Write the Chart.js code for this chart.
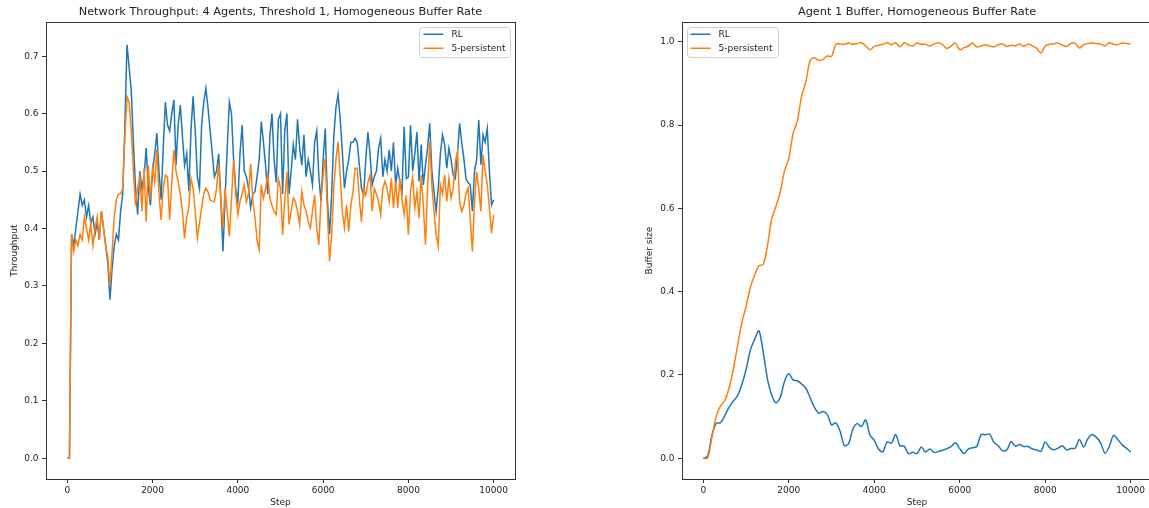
<!DOCTYPE html>
<html>
<head>
<meta charset="utf-8">
<script src="https://cdn.jsdelivr.net/npm/chart.js@4.4.1/dist/chart.umd.min.js"></script>
<style>
  html, body { margin: 0; padding: 0; background: #fff; overflow: hidden; }
  #wrap { position: relative; width: 1149px; height: 508px; overflow: hidden; }
  #throughputChart { position: absolute; left: 0; top: 0; }
  #bufferChart { position: absolute; left: 575px; top: 0; }
</style>
</head>
<body>
<div id="wrap">
  <canvas id="throughputChart" width="575" height="508"></canvas>
  <canvas id="bufferChart" width="580" height="508"></canvas>
</div>
<script>
// sampling grids (throughput every 50 steps, buffer every 100 steps)
var throughputSteps = [];
for (var s = 0; s <= 10000; s += 50) throughputSteps.push(s);
var bufferSteps = [];
for (var b = 0; b <= 10000; b += 100) bufferSteps.push(b);

var stepTicks = [0, 2000, 4000, 6000, 8000, 10000];
var throughputTicks = [0, 0.1, 0.2, 0.3, 0.4, 0.5, 0.6, 0.7];
var bufferTicks = [0, 0.2, 0.4, 0.6, 0.8, 1.0];

// values
var rlThroughput = [
  0, 0, 0.39, 0.37, 0.40, 0.43, 0.46, 0.44, 0.45, 0.42,
  0.44, 0.41, 0.42, 0.39, 0.41, 0.38, 0.43, 0.40, 0.37, 0.34,
  0.276, 0.33, 0.37, 0.39, 0.38, 0.43, 0.46, 0.58, 0.72, 0.68,
  0.64, 0.55, 0.47, 0.424, 0.50, 0.47, 0.49, 0.54, 0.47, 0.44,
  0.50, 0.53, 0.566, 0.50, 0.45, 0.54, 0.62, 0.58, 0.57, 0.60,
  0.624, 0.51, 0.58, 0.615, 0.56, 0.51, 0.53, 0.465, 0.57, 0.63,
  0.57, 0.49, 0.47, 0.58, 0.62, 0.644, 0.61, 0.57, 0.53, 0.49,
  0.50, 0.53, 0.45, 0.36, 0.45, 0.54, 0.62, 0.60, 0.52, 0.47,
  0.447, 0.53, 0.58, 0.50, 0.49, 0.47, 0.436, 0.46, 0.464, 0.49,
  0.52, 0.586, 0.55, 0.51, 0.46, 0.56, 0.60, 0.52, 0.48, 0.59,
  0.60, 0.46, 0.57, 0.60, 0.46, 0.50, 0.546, 0.52, 0.59, 0.54,
  0.51, 0.563, 0.49, 0.52, 0.50, 0.476, 0.55, 0.57, 0.49, 0.447,
  0.52, 0.574, 0.45, 0.39, 0.46, 0.56, 0.61, 0.633, 0.59, 0.534,
  0.47, 0.50, 0.52, 0.55, 0.55, 0.557, 0.55, 0.51, 0.47, 0.458,
  0.52, 0.568, 0.53, 0.476, 0.49, 0.50, 0.54, 0.557, 0.49, 0.52,
  0.50, 0.537, 0.50, 0.55, 0.476, 0.505, 0.48, 0.464, 0.577, 0.487,
  0.49, 0.58, 0.50, 0.53, 0.568, 0.482, 0.546, 0.476, 0.51, 0.54,
  0.583, 0.50, 0.464, 0.43, 0.47, 0.53, 0.563, 0.546, 0.505, 0.54,
  0.52, 0.493, 0.487, 0.528, 0.583, 0.55, 0.522, 0.487, 0.48, 0.476,
  0.43, 0.50, 0.52, 0.589, 0.511, 0.563, 0.55, 0.574, 0.499, 0.441,
  0.45
];
var persistentThroughput = [
  0, 0, 0.39, 0.36, 0.38, 0.37, 0.39, 0.38, 0.42, 0.40,
  0.38, 0.41, 0.37, 0.40, 0.42, 0.38, 0.43, 0.40, 0.37, 0.35,
  0.30, 0.36, 0.42, 0.45, 0.46, 0.46, 0.47, 0.56, 0.63, 0.62,
  0.57, 0.50, 0.44, 0.47, 0.49, 0.43, 0.505, 0.412, 0.51, 0.45,
  0.505, 0.48, 0.537, 0.46, 0.415, 0.47, 0.493, 0.49, 0.415, 0.48,
  0.537, 0.50, 0.482, 0.46, 0.43, 0.383, 0.42, 0.436, 0.487, 0.47,
  0.43, 0.383, 0.41, 0.436, 0.46, 0.47, 0.464, 0.45, 0.447, 0.447,
  0.47, 0.513, 0.45, 0.401, 0.47, 0.43, 0.386, 0.45, 0.519, 0.46,
  0.424, 0.447, 0.46, 0.476, 0.447, 0.46, 0.513, 0.45, 0.42, 0.38,
  0.363, 0.476, 0.453, 0.47, 0.493, 0.453, 0.44, 0.43, 0.424, 0.487,
  0.47, 0.389, 0.45, 0.499, 0.407, 0.43, 0.453, 0.447, 0.43, 0.407,
  0.464, 0.441, 0.43, 0.412, 0.401, 0.43, 0.458, 0.40, 0.372, 0.45,
  0.493, 0.522, 0.43, 0.343, 0.389, 0.47, 0.52, 0.551, 0.493, 0.43,
  0.401, 0.441, 0.395, 0.44, 0.464, 0.505, 0.505, 0.45, 0.412, 0.47,
  0.458, 0.48, 0.493, 0.43, 0.47, 0.46, 0.447, 0.424, 0.47, 0.482,
  0.47, 0.447, 0.487, 0.436, 0.482, 0.436, 0.487, 0.45, 0.424, 0.458,
  0.389, 0.464, 0.49, 0.436, 0.464, 0.418, 0.493, 0.44, 0.372, 0.47,
  0.551, 0.476, 0.43, 0.389, 0.369, 0.476, 0.46, 0.493, 0.447, 0.487,
  0.453, 0.47, 0.516, 0.534, 0.447, 0.43, 0.44, 0.46, 0.47, 0.418,
  0.36, 0.447, 0.499, 0.47, 0.43, 0.528, 0.50, 0.476, 0.436, 0.392,
  0.424
];
var rlBuffer = [
  0, 0.005, 0.055, 0.084, 0.085, 0.102, 0.122, 0.137, 0.15, 0.177,
  0.213, 0.26, 0.285, 0.306, 0.255, 0.19, 0.152, 0.133, 0.146, 0.185,
  0.203, 0.188, 0.186, 0.178, 0.168, 0.145, 0.122, 0.108, 0.112, 0.105,
  0.08, 0.085, 0.065, 0.03, 0.035, 0.07, 0.083, 0.076, 0.092, 0.055,
  0.043, 0.022, 0.015, 0.039, 0.036, 0.057, 0.03, 0.029, 0.011, 0.014,
  0.011, 0.027, 0.015, 0.022, 0.014, 0.016, 0.019, 0.023, 0.028, 0.037,
  0.023, 0.011, 0.022, 0.025, 0.028, 0.057, 0.056, 0.058, 0.038, 0.03,
  0.018, 0.019, 0.04, 0.029, 0.033, 0.028, 0.028, 0.022, 0.02, 0.016,
  0.039, 0.026, 0.02, 0.024, 0.03, 0.02, 0.023, 0.024, 0.045, 0.027,
  0.047, 0.057, 0.05, 0.036, 0.012, 0.028, 0.055, 0.045, 0.032, 0.024,
  0.015
];
var persistentBuffer = [
  0, 0, 0.05, 0.10, 0.125, 0.138, 0.168, 0.213, 0.27, 0.325,
  0.365, 0.41, 0.44, 0.462, 0.465, 0.51, 0.575, 0.605, 0.64, 0.69,
  0.72, 0.78, 0.81, 0.87, 0.905, 0.955, 0.962, 0.955, 0.958, 0.966,
  0.965, 0.994, 0.995, 0.994, 0.997, 0.994, 0.996, 0.998, 0.99, 0.981,
  0.989, 0.992, 0.994, 0.998, 0.993, 0.998, 0.988, 0.998, 0.993, 0.99,
  0.997, 0.994, 0.994, 0.99, 0.995, 0.998, 0.993, 0.984, 0.99, 0.997,
  0.981, 0.986, 0.99, 0.997, 0.988, 0.99, 0.993, 0.99, 0.988, 0.993,
  0.995, 0.989, 0.992, 0.99, 0.995, 0.989, 0.995, 0.99, 0.985, 0.973,
  0.99, 0.994, 0.995, 0.997, 0.992, 0.989, 0.996, 0.997, 0.985, 0.993,
  0.996, 0.997, 0.996, 0.995, 0.99, 0.998, 0.994, 0.993, 0.997, 0.996,
  0.995
];

var BLUE = '#1f77b4';
var ORANGE = '#ff7f0e';
var TEXT = '#222222';
var FONT = "'DejaVu Sans', sans-serif";
var SMALL = 9;

function toPoints(steps, values) {
  return values.map(function(v, i) { return { x: steps[i], y: v }; });
}

function fixedTicks(list) {
  return function(axis) {
    axis.ticks = list.map(function(v) { return { value: v }; });
  };
}

// axes frame on all four sides plus a matplotlib-style legend box
var framePlugin = {
  id: 'frame',
  afterDatasetsDraw: function(chart, args, opts) {
    var a = chart.chartArea;
    var ctx = chart.ctx;
    ctx.save();
    ctx.strokeStyle = '#333';
    ctx.lineWidth = 1;
    ctx.strokeRect(Math.round(a.left) + 0.5, Math.round(a.top) + 0.5,
      Math.round(a.right - a.left), Math.round(a.bottom - a.top));

    ctx.font = SMALL + 'px ' + FONT;
    var sets = chart.data.datasets;
    var textW = 0;
    sets.forEach(function(d) { textW = Math.max(textW, ctx.measureText(d.label).width); });
    var w = 4 + 20 + 8 + textW + 5;
    var h = 30;
    var x = opts.side === 'right' ? a.right - 4.5 - w : a.left + 4.5;
    var y = a.top + 4.5;
    ctx.beginPath();
    ctx.roundRect(Math.round(x) + 0.5, Math.round(y) + 0.5, Math.round(w), h, 3);
    ctx.fillStyle = 'rgba(255,255,255,0.8)';
    ctx.fill();
    ctx.strokeStyle = '#d0d0d0';
    ctx.stroke();

    sets.forEach(function(d, i) {
      var cy = y + 7.5 + i * 14;
      ctx.beginPath();
      ctx.strokeStyle = d.borderColor;
      ctx.lineWidth = 1.5;
      ctx.moveTo(x + 4, cy);
      ctx.lineTo(x + 24, cy);
      ctx.stroke();
      ctx.fillStyle = TEXT;
      ctx.textBaseline = 'middle';
      ctx.textAlign = 'left';
      ctx.fillText(d.label, x + 32, cy);
    });
    ctx.restore();
  }
};

function makeChart(id, cfg) {
  return new Chart(document.getElementById(id), {
    type: 'line',
    data: {
      datasets: [
        { label: 'RL', data: toPoints(cfg.steps, cfg.rl), borderColor: BLUE, backgroundColor: BLUE, order: 2 },
        { label: '5-persistent', data: toPoints(cfg.steps, cfg.persistent), borderColor: ORANGE, backgroundColor: ORANGE, order: 1 }
      ]
    },
    options: {
      responsive: false,
      animation: false,
      events: [],
      layout: { padding: { left: 0, right: cfg.padRight, top: 0, bottom: 0 } },
      elements: {
        point: { radius: 0 },
        line: { borderWidth: 1.5, tension: cfg.tension, fill: false }
      },
      plugins: {
        legend: { display: false },
        tooltip: { enabled: false },
        title: {
          display: true,
          text: cfg.title,
          fullSize: false,
          color: TEXT,
          font: { family: FONT, size: 11.3, weight: 'normal' },
          padding: { top: 5.4, bottom: 3.3 }
        },
        frame: { side: cfg.legendSide }
      },
      scales: {
        x: {
          type: 'linear',
          min: -500,
          max: 10500,
          afterBuildTicks: fixedTicks(stepTicks),
          afterFit: function(scale) { scale.height = 29; },
          border: { display: false },
          grid: { display: true, drawOnChartArea: false, tickLength: 4, tickColor: '#333' },
          ticks: {
            color: TEXT,
            font: { family: FONT, size: SMALL },
            padding: 2.5,
            maxRotation: 0,
            callback: function(v) { return String(v); }
          },
          title: { display: true, text: 'Step', color: TEXT, font: { family: FONT, size: SMALL }, padding: { top: 0, bottom: 0 } }
        },
        y: {
          type: 'linear',
          min: cfg.yMin,
          max: cfg.yMax,
          afterBuildTicks: fixedTicks(cfg.yTicks),
          afterFit: function(scale) { scale.width = cfg.axisWidth; },
          border: { display: false },
          grid: { display: true, drawOnChartArea: false, tickLength: 4, tickColor: '#333' },
          ticks: {
            color: TEXT,
            font: { family: FONT, size: SMALL },
            padding: 3.5,
            callback: function(v) { return Number(v).toFixed(1); }
          },
          title: { display: true, text: cfg.yLabel, color: TEXT, font: { family: FONT, size: SMALL }, padding: { top: cfg.yTitlePad, bottom: 0 } }
        }
      }
    },
    plugins: [framePlugin]
  });
}

makeChart('throughputChart', {
  title: 'Network Throughput: 4 Agents, Threshold 1, Homogeneous Buffer Rate',
  yLabel: 'Throughput',
  steps: throughputSteps,
  rl: rlThroughput,
  persistent: persistentThroughput,
  yTicks: throughputTicks,
  yMin: -0.036,
  yMax: 0.759,
  axisWidth: 46,
  yTitlePad: 9.6,
  padRight: 60,
  tension: 0,
  legendSide: 'right'
});

makeChart('bufferChart', {
  title: 'Agent 1 Buffer, Homogeneous Buffer Rate',
  yLabel: 'Buffer size',
  steps: bufferSteps,
  rl: rlBuffer,
  persistent: persistentBuffer,
  yTicks: bufferTicks,
  yMin: -0.05,
  yMax: 1.047,
  axisWidth: 107,
  yTitlePad: 69.6,
  padRight: 3,
  tension: 0.3,
  legendSide: 'left'
});
</script>
</body>
</html>
